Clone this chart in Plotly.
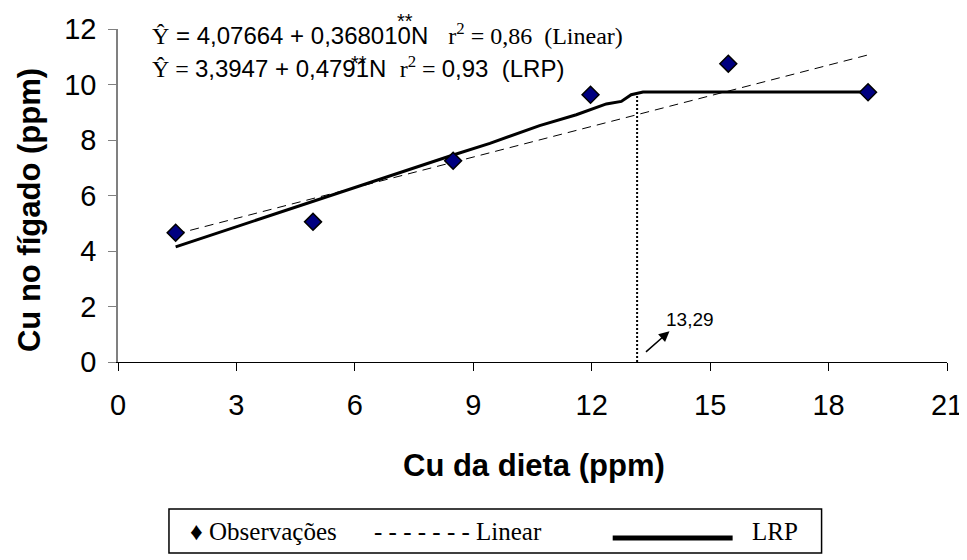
import plotly.graph_objects as go

# ---------------- data ----------------
obs_x = [1.46, 4.94, 8.49, 11.97, 15.46, 19.0]
obs_y = [4.66, 5.05, 7.25, 9.63, 10.75, 9.72]

lin_x = [1.46, 19.01]
lin_y = [4.61, 11.07]

lrp_x = [1.46, 5.28, 8.49, 9.42, 10.68, 11.61, 12.37, 12.75, 13.00, 13.30, 19.01]
lrp_y = [4.15, 5.96, 7.46, 7.88, 8.52, 8.91, 9.30, 9.39, 9.63, 9.73, 9.73]

break_x = [13.15, 13.15]
break_y = [0, 9.70]
break_label = "13,29"

x_ticks = [0, 3, 6, 9, 12, 15, 18, 21]
y_ticks = [0, 2, 4, 6, 8, 10, 12]

# ---------------- geometry (screen pixels) ----------------
W, H = 967, 560
OFF = 8  # default page body margin
L, R, T, B = 118, 947.5, 29, 362

def px(x):
    return (x - L) / (R - L)

def py(y):
    return (B - y) / (B - T)

SANS = "Liberation Sans, Arial, sans-serif"
SERIF = "Liberation Serif, Times New Roman, serif"
NB = "\u00a0"

fig = go.Figure()

fig.add_trace(go.Scatter(x=lin_x, y=lin_y, mode="lines",
                         line=dict(color="black", width=1, dash="9px,6px"),
                         showlegend=False, hoverinfo="skip"))
fig.add_trace(go.Scatter(x=lrp_x, y=lrp_y, mode="lines",
                         line=dict(color="black", width=3),
                         showlegend=False, hoverinfo="skip"))
fig.add_trace(go.Scatter(x=break_x, y=break_y, mode="lines",
                         line=dict(color="black", width=2, dash="2px,2px"),
                         showlegend=False, hoverinfo="skip", cliponaxis=False))
fig.add_trace(go.Scatter(x=obs_x, y=obs_y, mode="markers",
                         marker=dict(symbol="diamond", size=13, color="#000080",
                                     line=dict(color="black", width=1.5)),
                         showlegend=False, cliponaxis=False))

annotations = []

# equations
sp = lambda t: f'<span style="font-family:{SERIF}">{t}</span>'
line1 = (sp("Ŷ") + " = 4,07664 + 0,368010N" + NB * 3 +
         sp("r<sup>2</sup> = 0,86" + NB * 2 + "(Linear)"))
line2 = (sp("Ŷ = ") + "3,3947 + 0,4791N" + NB * 2 +
         sp("r<sup>2</sup> = ") + "0,93" + NB * 2 + "(LRP)")
annotations.append(dict(xref="paper", yref="paper", x=px(150), y=py(34),
                        xanchor="left", yanchor="middle", showarrow=False,
                        text=line1, font=dict(family=SANS, size=24, color="black")))
annotations.append(dict(xref="paper", yref="paper", x=px(150), y=py(67),
                        xanchor="left", yanchor="middle", showarrow=False,
                        text=line2, font=dict(family=SANS, size=24, color="black")))
annotations.append(dict(xref="paper", yref="paper", x=px(405), y=py(21),
                        xanchor="center", yanchor="middle", showarrow=False,
                        text="**", font=dict(family=SANS, size=20, color="black")))
annotations.append(dict(xref="paper", yref="paper", x=px(359), y=py(63),
                        xanchor="center", yanchor="middle", showarrow=False,
                        text="**", font=dict(family=SANS, size=20, color="black")))

# axis titles
annotations.append(dict(xref="paper", yref="paper", x=px(29), y=py(210),
                        xanchor="center", yanchor="middle", showarrow=False,
                        textangle=-90, text="<b>Cu no fígado (ppm)</b>",
                        font=dict(family=SANS, size=31, color="black")))
annotations.append(dict(xref="paper", yref="paper", x=px(534), y=py(465),
                        xanchor="center", yanchor="middle", showarrow=False,
                        text="<b>Cu da dieta (ppm)</b>",
                        font=dict(family=SANS, size=31, color="black")))

# break label with arrow
annotations.append(dict(x=13.97, y=1.11, xref="x", yref="y", text="",
                        showarrow=True, ax=-25, ay=22, arrowhead=2,
                        arrowsize=1.4, arrowwidth=1.5, arrowcolor="black"))
annotations.append(dict(xref="paper", yref="paper", x=px(664), y=py(319),
                        xanchor="left", yanchor="middle", showarrow=False,
                        text=break_label, font=dict(family=SANS, size=19, color="black")))

# custom legend
annotations.append(dict(xref="paper", yref="paper", x=px(188), y=py(531),
                        xanchor="left", yanchor="middle", showarrow=False,
                        text="♦ Observações", font=dict(family=SERIF, size=25, color="black")))
annotations.append(dict(xref="paper", yref="paper", x=px(372), y=py(531),
                        xanchor="left", yanchor="middle", showarrow=False,
                        text="- - - - - - - Linear", font=dict(family=SERIF, size=25, color="black")))
annotations.append(dict(xref="paper", yref="paper", x=px(750), y=py(531),
                        xanchor="left", yanchor="middle", showarrow=False,
                        text="LRP", font=dict(family=SERIF, size=25, color="black")))

shapes = [
    dict(type="rect", xref="paper", yref="paper", x0=px(169), x1=px(822),
         y0=py(509), y1=py(553), line=dict(color="black", width=1.5)),
    dict(type="line", xref="paper", yref="paper", x0=px(613), x1=px(733),
         y0=py(538), y1=py(538), line=dict(color="black", width=5)),
]

fig.update_layout(
    width=W - OFF, height=H - OFF, autosize=False,
    margin=dict(l=L - OFF, r=W - R, t=T - OFF, b=H - B, autoexpand=False),
    paper_bgcolor="white", plot_bgcolor="white",
    showlegend=False,
    annotations=annotations, shapes=shapes,
    font=dict(family=SANS, color="black"),
    xaxis=dict(range=[0, 21], tickvals=x_ticks, ticktext=[str(v) for v in x_ticks],
               showgrid=False, zeroline=False, showline=True, linecolor="black",
               linewidth=1, ticks="outside", ticklen=8, tickcolor="black",
               tickfont=dict(family=SANS, size=29), ticklabelstandoff=9,
               ticklabeloverflow="allow"),
    yaxis=dict(range=[0, 12], tickvals=y_ticks, ticktext=[str(v) for v in y_ticks],
               showgrid=False, zeroline=False, showline=True, linecolor="#808080",
               linewidth=1.5, ticks="outside", ticklen=8, tickcolor="#808080",
               tickfont=dict(family=SANS, size=29), ticklabelstandoff=6),
)

fig.write_html("out.html")
